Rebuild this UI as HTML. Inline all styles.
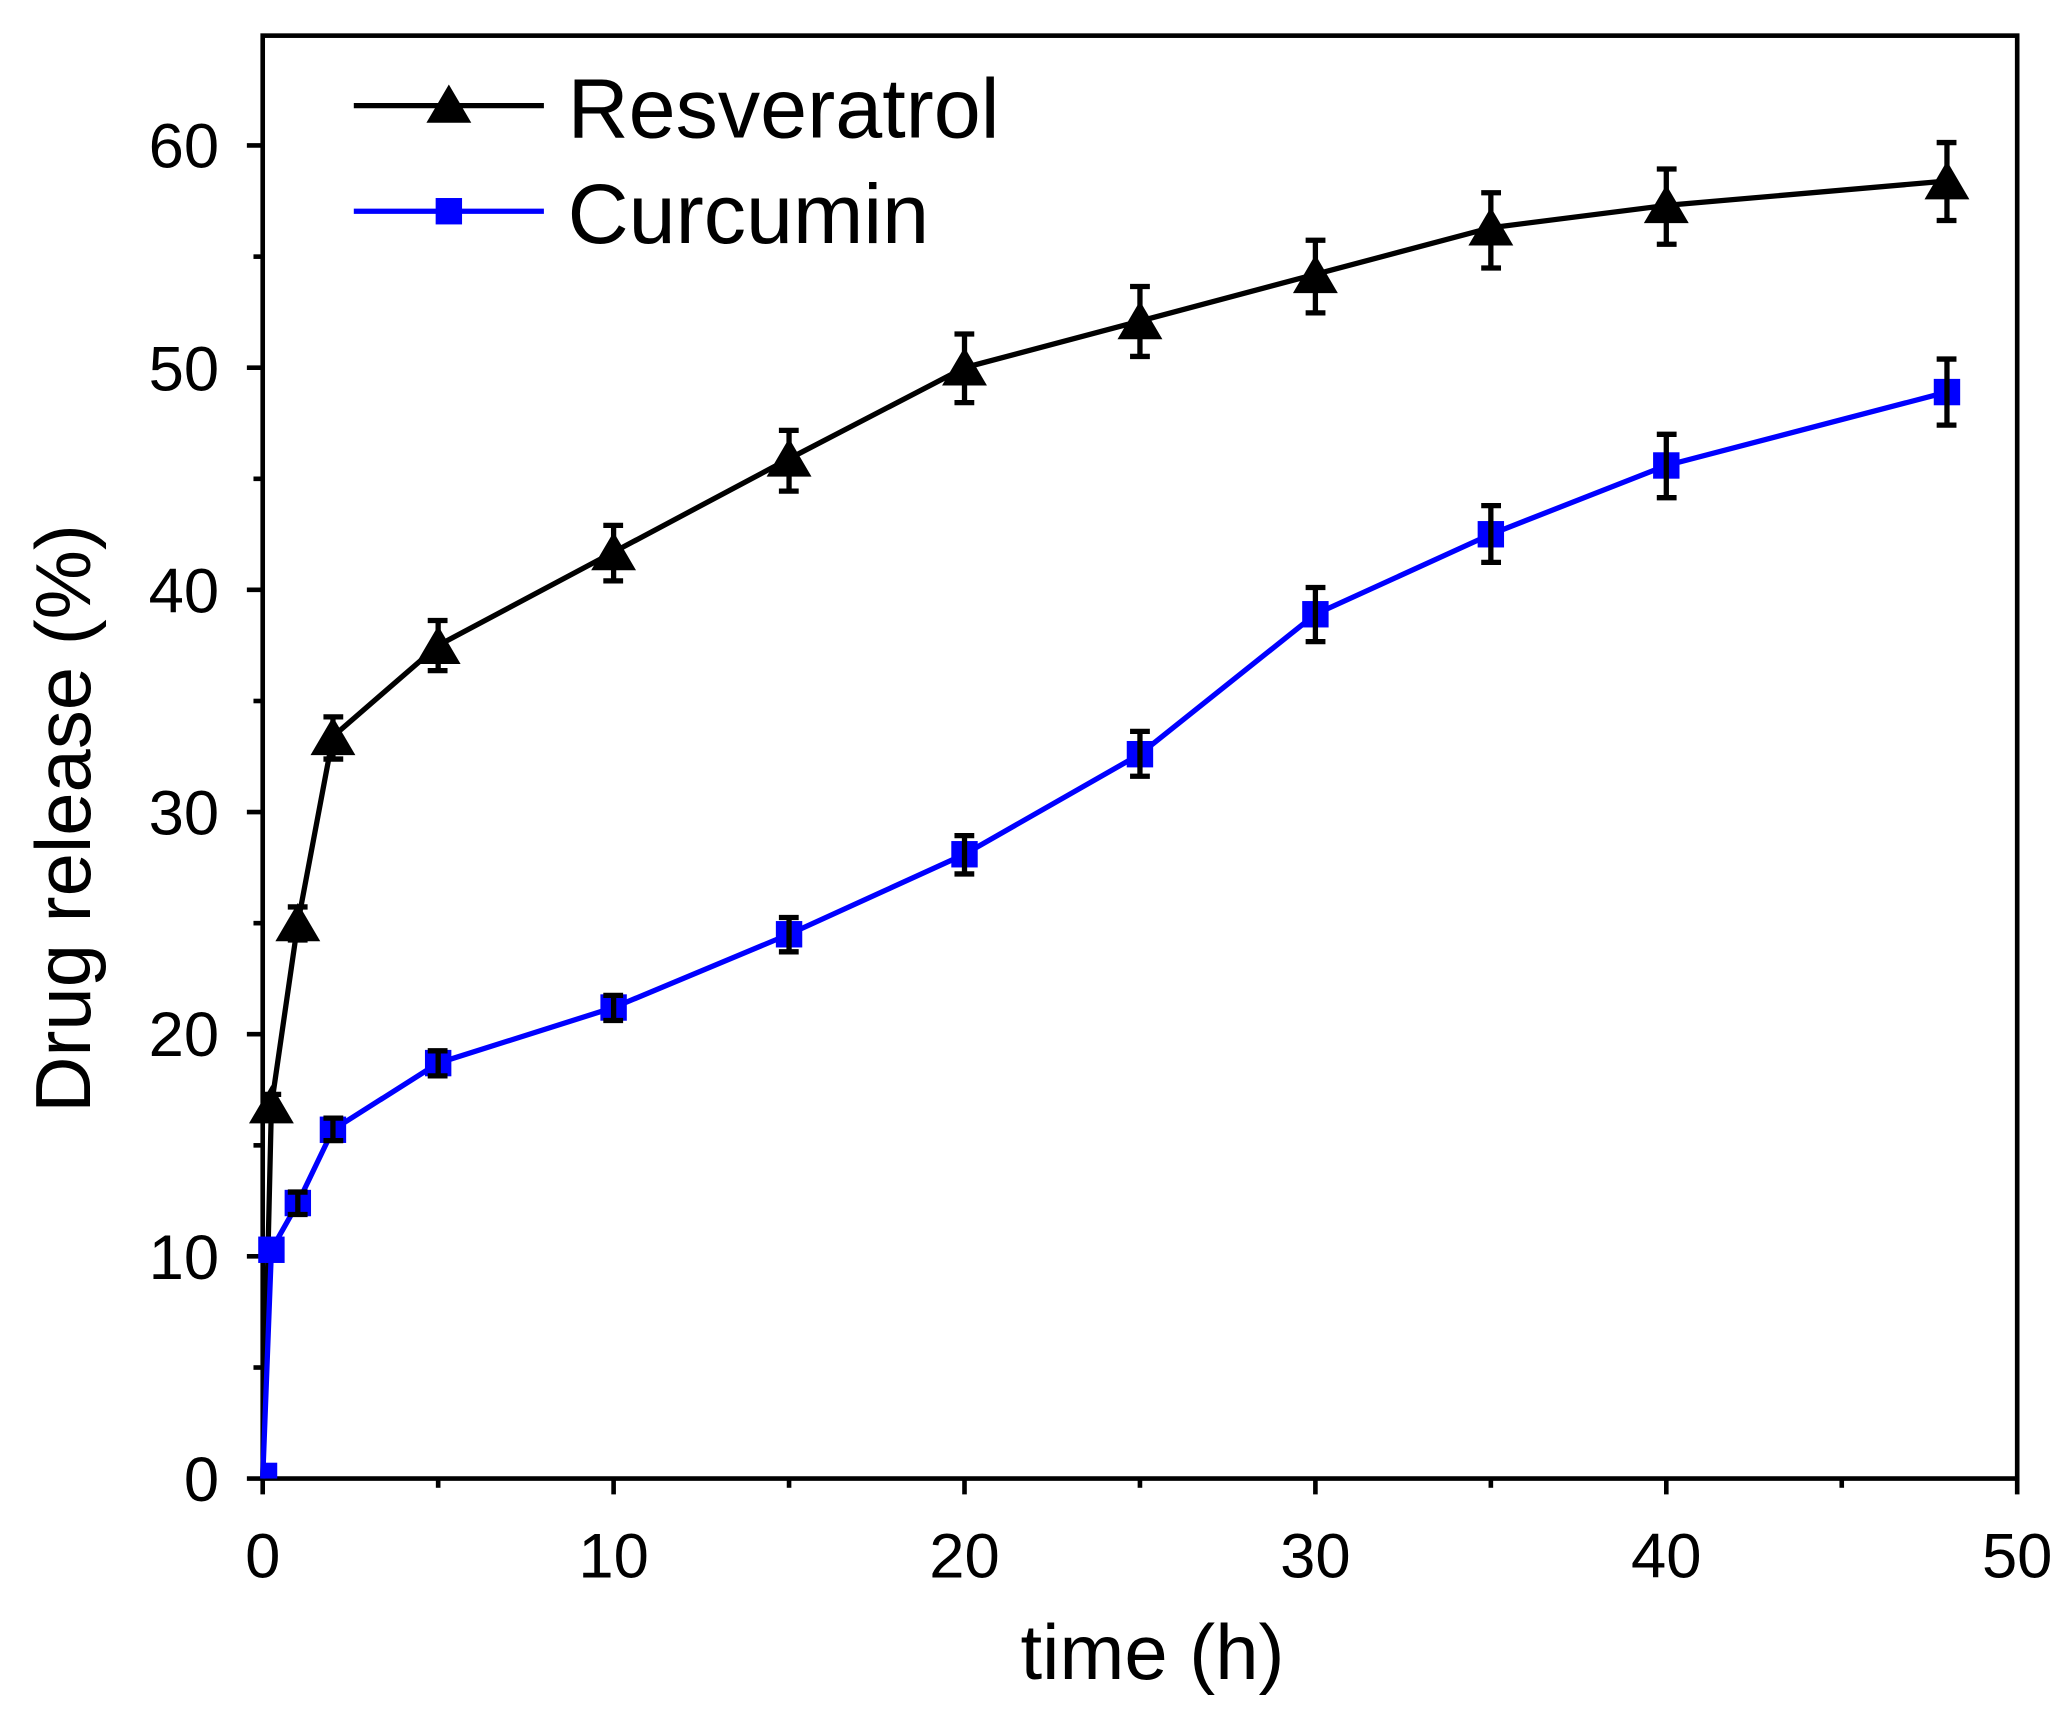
<!DOCTYPE html>
<html><head><meta charset="utf-8"><style>html,body{margin:0;padding:0;background:#fff}svg{display:block}</style></head>
<body>
<svg width="2070" height="1713" viewBox="0 0 1568 1297.6" preserveAspectRatio="none" xmlns="http://www.w3.org/2000/svg" font-family="Liberation Sans, Arial, sans-serif">
<rect x="199" y="27" width="1329" height="1093" fill="none" stroke="#000" stroke-width="3.5"/>
<g stroke="#000" stroke-width="3.5">
<line x1="199" y1="1120" x2="199" y2="1132"/><line x1="464.8" y1="1120" x2="464.8" y2="1132"/><line x1="730.6" y1="1120" x2="730.6" y2="1132"/><line x1="996.4" y1="1120" x2="996.4" y2="1132"/><line x1="1262.2" y1="1120" x2="1262.2" y2="1132"/><line x1="1528" y1="1120" x2="1528" y2="1132"/>
<line x1="331.9" y1="1120" x2="331.9" y2="1127"/><line x1="597.7" y1="1120" x2="597.7" y2="1127"/><line x1="863.5" y1="1120" x2="863.5" y2="1127"/><line x1="1129.3" y1="1120" x2="1129.3" y2="1127"/><line x1="1395.1" y1="1120" x2="1395.1" y2="1127"/>
<line x1="187" y1="1120" x2="199" y2="1120"/><line x1="187" y1="951.7" x2="199" y2="951.7"/><line x1="187" y1="783.4" x2="199" y2="783.4"/><line x1="187" y1="615.1" x2="199" y2="615.1"/><line x1="187" y1="446.8" x2="199" y2="446.8"/><line x1="187" y1="278.5" x2="199" y2="278.5"/><line x1="187" y1="110.2" x2="199" y2="110.2"/>
<line x1="192" y1="1035.9" x2="199" y2="1035.9"/><line x1="192" y1="867.6" x2="199" y2="867.6"/><line x1="192" y1="699.3" x2="199" y2="699.3"/><line x1="192" y1="531" x2="199" y2="531"/><line x1="192" y1="362.7" x2="199" y2="362.7"/><line x1="192" y1="194.4" x2="199" y2="194.4"/>
</g>
<g font-size="48" text-anchor="end" fill="#000">
<text x="166" y="1137">0</text><text x="166" y="969">10</text><text x="166" y="800">20</text><text x="166" y="632">30</text><text x="166" y="464">40</text><text x="166" y="296">50</text><text x="166" y="127">60</text>
</g>
<g font-size="48" text-anchor="middle" fill="#000">
<text x="199" y="1195">0</text><text x="464.8" y="1195">10</text><text x="730.6" y="1195">20</text><text x="996.4" y="1195">30</text><text x="1262.2" y="1195">40</text><text x="1528" y="1195">50</text>
</g>
<text x="873" y="1272" font-size="59" text-anchor="middle">time (h)</text>
<text transform="translate(68,620) rotate(-90)" font-size="59" text-anchor="middle">Drug release (%)</text>

<!-- Resveratrol -->
<polyline fill="none" stroke="#000" stroke-width="4" points="199,1120 205.6,837.3 225.6,699.3 252.2,557.9 331.9,488.9 464.8,418.2 597.7,347.5 730.6,278.5 863.5,243.2 996.4,207.8 1129.3,172.5 1262.2,155.6 1474.8,137.1"/>
<g stroke="#000" stroke-width="4">
<path d="M205.6 829v17M198 829h15M198 846h15"/>
<path d="M225.6 687v25M218 687h15M218 712h15"/>
<path d="M252.2 543v32M245 543h15M245 575h15"/>
<path d="M331.9 470v38M324 470h15M324 508h15"/>
<path d="M464.8 398v42M457 398h15M457 440h15"/>
<path d="M597.7 326v46M590 326h15M590 372h15"/>
<path d="M730.6 253v52M723 253h15M723 305h15"/>
<path d="M863.5 217v53M856 217h15M856 270h15"/>
<path d="M996.4 182v55M989 182h15M989 237h15"/>
<path d="M1129.3 146v57M1122 146h15M1122 203h15"/>
<path d="M1262.2 128v57M1255 128h15M1255 185h15"/>
<path d="M1474.8 108v59M1467 108h15M1467 167h15"/>
</g>
<g fill="#000">
<path d="M205.6 822l-17 29h34z"/><path d="M225.6 684l-17 29h34z"/><path d="M252.2 543l-17 29h34z"/><path d="M331.9 474l-17 29h34z"/><path d="M464.8 403l-17 29h34z"/><path d="M597.7 332l-17 29h34z"/><path d="M730.6 263l-17 29h34z"/><path d="M863.5 228l-17 29h34z"/><path d="M996.4 193l-17 29h34z"/><path d="M1129.3 157l-17 29h34z"/><path d="M1262.2 140l-17 29h34z"/><path d="M1474.8 122l-17 29h34z"/>
</g>

<!-- Curcumin -->
<polyline fill="none" stroke="#0000ff" stroke-width="4" points="199,1120 205.6,946.7 225.6,911.3 252.2,855.8 331.9,805.3 464.8,763.2 597.7,707.7 730.6,647.1 863.5,571.3 996.4,465.3 1129.3,404.7 1262.2,352.6 1474.8,297"/>
<g fill="#0000ff">
<rect x="199" y="1108" width="11" height="12"/>
<rect x="195.6" y="936.7" width="20" height="20"/><rect x="215.6" y="901.3" width="20" height="20"/><rect x="242.2" y="845.8" width="20" height="20"/><rect x="321.9" y="795.3" width="20" height="20"/><rect x="454.8" y="753.2" width="20" height="20"/><rect x="587.7" y="697.7" width="20" height="20"/><rect x="720.6" y="637.1" width="20" height="20"/><rect x="853.5" y="561.3" width="20" height="20"/><rect x="986.4" y="455.3" width="20" height="20"/><rect x="1119.3" y="394.7" width="20" height="20"/><rect x="1252.2" y="342.6" width="20" height="20"/><rect x="1464.8" y="287" width="20" height="20"/>
</g>
<g stroke="#000" stroke-width="4">
<path d="M225.6 903v17M218 903h15M218 920h15"/>
<path d="M252.2 847v17M245 847h15M245 864h15"/>
<path d="M331.9 796v19M324 796h15M324 815h15"/>
<path d="M464.8 754v19M457 754h15M457 773h15"/>
<path d="M597.7 695v26M590 695h15M590 721h15"/>
<path d="M730.6 633v29M723 633h15M723 662h15"/>
<path d="M863.5 554v34M856 554h15M856 588h15"/>
<path d="M996.4 445v41M989 445h15M989 486h15"/>
<path d="M1129.3 383v43M1122 383h15M1122 426h15"/>
<path d="M1262.2 329v48M1255 329h15M1255 377h15"/>
<path d="M1474.8 272v50M1467 272h15M1467 322h15"/>
</g>

<!-- Legend -->
<line x1="268" y1="80" x2="412" y2="80" stroke="#000" stroke-width="4"/>
<path d="M340 64l-17 29h34z" fill="#000"/>
<text x="430" y="104" font-size="64">Resveratrol</text>
<line x1="268" y1="160" x2="412" y2="160" stroke="#0000ff" stroke-width="4"/>
<rect x="330" y="150" width="20" height="20" fill="#0000ff"/>
<text x="430" y="184" font-size="64">Curcumin</text>
</svg>
</body></html>
